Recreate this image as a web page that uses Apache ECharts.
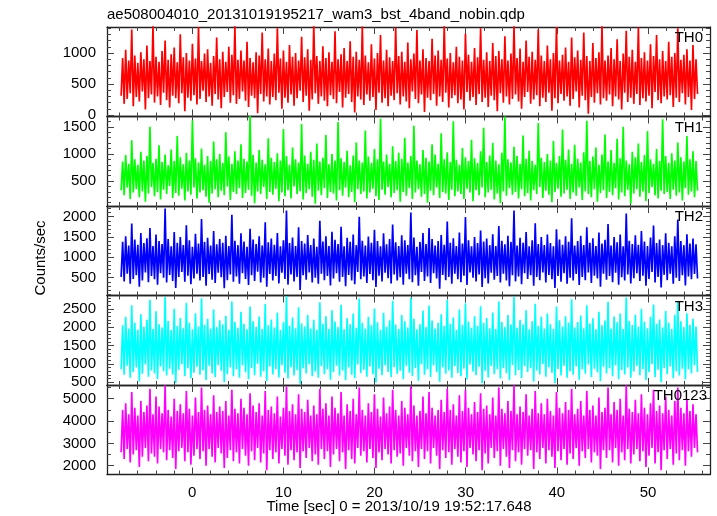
<!DOCTYPE html>
<html><head><meta charset="utf-8">
<script src="https://cdn.jsdelivr.net/npm/echarts@6/dist/echarts.min.js"></script>
<style>html,body{margin:0;padding:0;background:#fff}#c{width:717px;height:516px}</style>
</head><body><div id="c"></div>
<script>
const titleText = 'ae508004010_20131019195217_wam3_bst_4band_nobin.qdp';
const xTitle = 'Time [sec] 0 = 2013/10/19 19:52:17.648';
const yTitle = 'Counts/sec';
const panelNames = ['TH0', 'TH1', 'TH2', 'TH3', 'TH0123'];
const panelColors = ['#ff0000', '#00ff00', '#0000ff', '#00ffff', '#ff00ff'];
const tStart = -7.8, tStep = 0.1664;

const th0 = [
310,920,180,1050,260,880,350,1380,140,960,290,840,220,1010,380,900,90,1120,270,870,
330,1450,200,940,300,860,160,1030,360,1200,240,890,120,980,310,1090,270,850,190,1300,
350,930,60,1000,280,880,230,1150,320,910,170,1420,260,870,390,990,210,1060,300,840,
150,950,340,1250,250,900,110,1020,290,860,370,1100,200,970,320,1440,180,890,260,1040,
380,880,230,1180,130,920,310,850,270,1010,30,960,340,1330,220,900,300,1070,170,870,
290,990,240,1400,360,910,100,1040,280,860,200,1130,330,940,150,1000,270,880,390,1260,
210,930,310,1060,70,890,250,1460,350,950,180,870,300,1110,230,920,140,1010,320,860,
260,1350,190,900,370,980,120,1080,280,870,340,1190,210,940,40,1020,300,890,250,1430,
160,960,330,850,230,1140,290,910,80,1000,360,1290,200,880,270,1050,140,930,310,870,
240,1410,350,950,170,1020,300,860,220,1170,110,900,380,990,260,1370,190,880,330,1060,
50,920,280,870,240,1230,340,960,150,1040,300,890,210,1450,360,910,120,1000,270,850,
320,1100,190,940,250,880,90,1310,370,970,230,860,290,1080,160,930,340,1400,210,890,
280,1010,130,870,310,1160,240,950,60,1030,350,900,200,1270,300,880,170,990,260,1440,
330,920,220,1070,100,860,290,1200,370,940,180,1020,250,890,320,1380,140,960,280,870,
210,1120,360,900,70,1000,270,1420,190,880,340,970,230,1090,300,860,150,1250,260,930,
380,1040,120,890,310,1330,240,950,20,870,290,1160,200,920,350,1010,170,1450,270,880,
230,960,330,1080,140,900,300,1220,250,870,90,990,360,1360,210,940,280,1050,180,860,
340,1410,160,920,270,1010,220,880,310,1140,110,950,370,1290,240,900,190,1030,300,870,
250,1180,320,940,130,1000,280,1400,210,890,350,970,170,1060,290,880,80,1130,260,900,
340
];
const th1 = [
330,860,240,980,380,820,170,1250,290,900,350,800,200,1040,310,880,120,960,270,1500,
390,830,220,910,300,1160,160,850,340,990,260,790,410,1080,190,870,280,1330,230,940,
360,810,140,1020,310,880,250,1620,380,920,180,840,290,1100,330,800,210,960,100,870,
270,1230,350,900,200,1000,320,830,240,1400,400,950,150,820,300,1050,260,880,370,1180,
190,910,280,860,340,1700,230,980,90,840,310,1070,260,890,390,810,170,1290,300,930,
250,850,360,1010,130,880,290,1460,220,960,330,800,180,1120,400,900,260,840,310,1550,
160,970,280,820,350,1040,210,890,80,1190,320,860,240,930,370,1350,190,810,300,1000,
270,880,140,1590,330,920,230,850,380,1060,200,790,300,970,110,1210,350,880,260,840,
310,1430,180,950,290,830,360,1090,220,900,150,1650,340,860,250,990,390,820,200,1140,
280,870,330,1020,120,910,300,1300,230,840,370,960,170,1520,290,880,350,810,210,1070,
260,930,100,860,320,1180,240,990,380,820,190,1380,300,900,270,1030,150,850,340,1600,
220,890,310,800,260,1110,170,940,360,870,290,1260,130,920,330,830,240,1050,380,1480,
200,850,290,970,340,1200,160,880,270,810,90,1020,310,1690,230,900,370,840,250,1130,
300,960,180,820,350,1340,220,910,280,1060,140,870,330,800,260,1570,390,930,190,850,
320,1000,250,880,110,1240,300,830,360,960,210,1450,270,890,340,1080,170,820,290,1170,
230,910,380,840,150,1030,310,1610,260,870,200,950,350,1120,120,800,280,990,330,1360,
190,860,300,1070,240,830,370,1280,160,920,290,1500,220,880,340,810,80,1040,270,940,
350,1190,210,850,310,980,130,1420,280,900,390,820,240,1090,180,870,320,1640,260,960,
300,830,170,1010,340,880,230,1210,290,940,140,860,370,1330,250,900,310,1050,200,870,
320
];
const th2 = [
520,1380,410,1520,600,1290,350,1830,470,1440,560,1310,280,1600,430,1350,630,1470,390,1720,
540,1280,460,1560,330,1400,610,1330,500,2200,380,1450,570,1270,420,1620,250,1360,520,1500,
640,1300,400,1790,550,1420,340,1260,480,1580,600,1340,430,1940,520,1380,300,1480,590,1290,
450,1650,370,1320,620,1450,510,1360,240,1530,440,1280,580,2050,400,1410,530,1300,350,1590,
610,1390,470,1260,320,1700,560,1440,420,1330,650,1520,380,1290,500,1860,280,1370,590,1460,
430,1310,540,1600,360,1270,620,1420,470,2150,330,1350,580,1490,410,1280,520,1740,200,1400,
560,1340,450,1550,630,1300,380,1460,500,1260,350,1900,600,1390,440,1520,540,1280,310,1630,
480,1430,610,1330,400,1750,520,1270,290,1480,570,1380,430,1560,340,1300,640,2000,460,1410,
530,1290,370,1510,590,1360,440,1680,270,1400,550,1270,410,1590,620,1320,490,1450,360,1810,
580,1370,430,1280,510,1540,330,1420,600,1300,460,2100,390,1490,560,1260,300,1380,640,1600,
420,1330,530,1720,370,1450,610,1290,480,1400,230,1550,570,1310,440,1880,520,1360,350,1470,
600,1280,460,1610,390,1340,550,1990,320,1420,630,1270,500,1500,410,1350,580,1660,270,1390,
490,1460,360,1300,620,1570,450,1280,540,1770,380,1410,600,1320,430,1530,290,1380,560,2150,
410,1290,530,1480,340,1360,610,1620,470,1270,560,1420,300,1840,520,1330,440,1500,630,1300,
380,1560,570,1350,460,1270,250,1690,540,1440,400,1310,610,1520,350,1380,500,1960,430,1290,
590,1400,320,1530,520,1300,440,1740,630,1360,370,1470,550,1280,480,1610,280,1340,600,1430,
450,1820,540,1290,390,1500,620,1370,330,1560,510,1270,430,2080,580,1410,360,1330,490,1540,
610,1310,420,1650,550,1390,300,1280,470,1490,640,1780,380,1350,520,1440,260,1300,570,1590,
440,1360,600,1270,350,1520,500,1930,420,1400,560,1300,310,1570,530,1340,460,1460,590,1320,
480
];
const th3 = [
860,2050,700,2280,950,1960,620,2600,780,2120,900,1930,520,2350,730,2010,980,2200,650,2750,
820,1950,740,2430,590,2080,930,1990,800,2820,680,2170,870,1920,710,2500,480,2030,840,2250,
990,1970,670,2660,880,2110,610,1940,760,2380,920,2020,700,2790,830,2060,560,2230,950,1960,
740,2480,640,2000,970,2190,810,2070,500,2310,720,1930,900,2700,660,2140,850,1980,620,2420,
960,2090,770,1940,580,2560,890,2160,690,2010,1000,2290,650,1950,800,2630,530,2050,930,2210,
710,1990,860,2400,630,1920,970,2130,760,2850,600,2040,910,2260,680,1970,830,2540,460,2100,
880,2020,740,2330,990,1960,660,2200,790,1930,620,2680,940,2090,720,2300,850,1950,570,2460,
780,2150,950,2000,680,2610,820,1940,550,2240,900,2080,700,2370,610,1980,980,2780,750,2110,
840,1960,650,2280,930,2050,720,2510,490,2130,870,1930,690,2390,960,2010,780,2190,640,2720,
910,2070,730,1950,810,2330,590,2160,950,1990,760,2800,670,2230,890,1940,540,2080,990,2450,
700,2000,850,2590,640,2180,960,1960,770,2120,510,2350,900,2030,730,2740,820,2090,620,2260,
940,1930,750,2480,660,2060,870,2650,580,2150,980,1980,790,2300,690,2040,920,2570,470,2110,
810,2250,630,1970,950,2400,720,1950,860,2700,600,2140,890,2000,750,2330,560,2070,970,2830,
690,1980,830,2200,610,2070,940,2460,780,1940,880,2160,520,2640,820,2030,710,2280,990,1960,
650,2370,910,2080,760,1950,480,2560,860,2190,680,2020,950,2300,620,2120,800,2760,700,1990,
930,2140,570,2320,850,1970,730,2600,980,2100,640,2240,870,1940,770,2420,530,2050,920,2180,
740,2690,880,1960,660,2290,960,2130,590,2370,830,1950,710,2810,900,2170,620,2060,790,2340,
950,2010,690,2500,860,2150,550,1970,770,2280,990,2620,640,2090,840,2210,500,1990,890,2440,
720,2120,930,1950,610,2330,800,2710,680,2160,870,2000,580,2380,850,2060,740,2230,960,2020,
780
];
const th0123 = [
2600,4500,2300,4800,2750,4300,2150,5300,2500,4600,2700,4250,1950,4900,2400,4400,2800,4700,2200,5450,
2550,4300,2400,5100,2100,4650,2750,4350,2600,5600,2250,4500,2700,4200,2350,5000,1850,4450,2650,4750,
2800,4350,2200,5350,2600,4550,2050,4250,2450,5050,2750,4400,2300,5500,2650,4500,2000,4700,2750,4300,
2400,5150,2150,4400,2800,4650,2550,4450,1900,4900,2350,4250,2700,5400,2200,4550,2600,4350,2100,5000,
2750,4600,2450,4300,2000,5250,2650,4700,2250,4400,2800,4800,2150,4250,2550,5350,1800,4500,2700,4650,
2300,4350,2600,5100,2100,4200,2750,4600,2450,5550,2050,4450,2700,4750,2250,4300,2600,5200,1900,4550,
2650,4400,2350,4950,2800,4250,2200,4700,2500,4300,2050,5450,2750,4550,2300,4800,2650,4250,1950,5100,
2500,4600,2750,4350,2200,5300,2600,4250,1850,4750,2700,4450,2300,5000,2100,4300,2800,5500,2450,4500,
2650,4250,2150,4800,2750,4400,2350,5200,1900,4550,2600,4200,2250,5050,2750,4350,2500,4650,2100,5400,
2700,4500,2400,4250,2550,4900,2000,4600,2800,4300,2450,5550,2200,4700,2650,4250,1950,4450,2750,5100,
2300,4350,2650,5300,2100,4600,2800,4250,2450,4500,1850,4950,2700,4400,2350,5450,2600,4500,2050,4750,
2750,4250,2400,5150,2150,4450,2650,5400,1950,4600,2800,4300,2500,4850,2200,4400,2700,5250,1800,4550,
2550,4700,2100,4300,2800,5050,2350,4250,2650,5500,2000,4550,2750,4350,2400,4900,1900,4450,2700,5600,
2200,4300,2600,4650,2050,4400,2750,5200,2450,4250,2700,4550,1850,5350,2600,4350,2300,4800,2800,4300,
2100,5000,2700,4450,2400,4250,1900,5300,2650,4600,2250,4350,2750,4850,2050,4500,2550,5450,2300,4300,
2800,4550,2000,4900,2650,4250,2350,5350,2750,4500,2150,4700,2600,4250,2450,5050,1850,4400,2700,4600,
2350,5500,2700,4300,2150,4850,2800,4500,2000,5000,2600,4250,2250,5600,2750,4550,2100,4400,2500,4950,
2750,4350,2200,5200,2650,4600,1950,4300,2450,4800,2800,5400,2100,4450,2600,4700,1800,4350,2700,5100,
2300,4500,2750,4250,2050,4900,2550,5500,2250,4600,2700,4350,2000,5000,2650,4450,2400,4750,2800,4300,
2600
];
const panelData = [th0, th1, th2, th3, th0123];

const xMin = -9.35, xMax = 56.8;
const xMajorTicks = [0, 10, 20, 30, 40, 50];
const xMinorTicks = [-8,-6,-4,-2,0,2,4,6,8,10,12,14,16,18,20,22,24,26,28,30,32,34,36,38,40,42,44,46,48,50,52,54,56];
const yRanges = [[-24, 1419], [40, 1690], [62, 2263], [423, 2863], [1608, 5615]];
const yMajorTicks = [
  [0, 500, 1000],
  [500, 1000, 1500],
  [500, 1000, 1500, 2000],
  [500, 1000, 1500, 2000, 2500],
  [2000, 3000, 4000, 5000]
];
const yMinorStep = [100, 100, 100, 100, 500];

function stepsIn(lo, hi, step) {
  const out = [];
  for (let v = Math.ceil(lo / step) * step; v <= hi; v += step) out.push(v);
  return out;
}

const FONT = '"Liberation Sans", Arial, Helvetica, sans-serif';
const gridTops = [27, 116.5, 206, 295.5, 385];
const gridH = 89.5;
const frameLine = { color: '#222', width: 1.3 };
const tickLine = { color: '#444', width: 1 };
const plain = v => String(v);

const grids = [], xAxes = [], yAxes = [], series = [], graphics = [];

panelData.forEach((vals, i) => {
  grids.push({ left: 107, right: 7, top: gridTops[i], height: gridH });
  const isLast = i === panelData.length - 1;
  const xb = { type: 'value', gridIndex: i, min: xMin, max: xMax, splitLine: { show: false } };
  const xi = xAxes.length;
  xAxes.push(Object.assign({}, xb, {
    position: 'bottom',
    axisLine: { show: true, onZero: false, lineStyle: frameLine },
    axisTick: { show: true, inside: true, length: 7, customValues: xMajorTicks, lineStyle: tickLine },
    axisLabel: { show: isLast, customValues: xMajorTicks, formatter: plain, margin: 11, fontSize: 15, color: '#000', fontFamily: FONT }
  }));
  xAxes.push(Object.assign({}, xb, {
    position: 'bottom',
    axisLine: { show: false, onZero: false },
    axisTick: { show: true, inside: true, length: 4, customValues: xMinorTicks, lineStyle: tickLine },
    axisLabel: { show: false }
  }));
  xAxes.push(Object.assign({}, xb, {
    position: 'top',
    axisLine: { show: true, onZero: false, lineStyle: frameLine },
    axisTick: { show: true, inside: true, length: 7, customValues: xMajorTicks, lineStyle: tickLine },
    axisLabel: { show: false }
  }));
  xAxes.push(Object.assign({}, xb, {
    position: 'top',
    axisLine: { show: false, onZero: false },
    axisTick: { show: true, inside: true, length: 4, customValues: xMinorTicks, lineStyle: tickLine },
    axisLabel: { show: false }
  }));

  const [ymin, ymax] = yRanges[i];
  const minor = stepsIn(ymin, ymax, yMinorStep[i]);
  const yb = { type: 'value', gridIndex: i, min: ymin, max: ymax, splitLine: { show: false } };
  const yi = yAxes.length;
  yAxes.push(Object.assign({}, yb, {
    position: 'left',
    axisLine: { show: true, onZero: false, lineStyle: frameLine },
    axisTick: { show: true, inside: true, length: 7, customValues: yMajorTicks[i], lineStyle: tickLine },
    axisLabel: { show: true, customValues: yMajorTicks[i], formatter: plain, margin: 11, fontSize: 15, color: '#000', fontFamily: FONT }
  }));
  yAxes.push(Object.assign({}, yb, {
    position: 'left',
    axisLine: { show: false, onZero: false },
    axisTick: { show: true, inside: true, length: 4, customValues: minor, lineStyle: tickLine },
    axisLabel: { show: false }
  }));
  yAxes.push(Object.assign({}, yb, {
    position: 'right',
    axisLine: { show: true, onZero: false, lineStyle: frameLine },
    axisTick: { show: true, inside: true, length: 7, customValues: yMajorTicks[i], lineStyle: tickLine },
    axisLabel: { show: false }
  }));
  yAxes.push(Object.assign({}, yb, {
    position: 'right',
    axisLine: { show: false, onZero: false },
    axisTick: { show: true, inside: true, length: 4, customValues: minor, lineStyle: tickLine },
    axisLabel: { show: false }
  }));

  series.push({
    type: 'line', xAxisIndex: xi, yAxisIndex: yi,
    data: vals.map((v, k) => [tStart + k * tStep, v]),
    symbol: 'none', showSymbol: false, clip: true, sampling: null,
    lineStyle: { width: 1.7, color: panelColors[i], join: 'bevel' },
    itemStyle: { color: panelColors[i] },
    silent: true, animation: false
  });

  graphics.push({
    type: 'text', x: isLast ? 707 : 703, y: gridTops[i] + 11,
    style: { text: panelNames[i], align: 'right', verticalAlign: 'middle', font: '15px ' + FONT, fill: '#000' },
    z: 100
  });
});

graphics.push({
  type: 'text', x: 41, y: 258, rotation: Math.PI / 2,
  style: { text: yTitle, align: 'center', verticalAlign: 'middle', font: '15px ' + FONT, fill: '#000' }
});
graphics.push({
  type: 'text', x: 399, y: 507,
  style: { text: xTitle, align: 'center', verticalAlign: 'middle', font: '15px ' + FONT, fill: '#000' }
});

const chart = echarts.init(document.getElementById('c'), null, { renderer: 'canvas' });
chart.setOption({
  animation: false,
  backgroundColor: '#fff',
  title: { text: titleText, left: 107, top: 7, padding: 0, textStyle: { fontSize: 15, fontWeight: 'normal', color: '#000', fontFamily: FONT } },
  grid: grids,
  xAxis: xAxes,
  yAxis: yAxes,
  series: series,
  graphic: graphics
});
</script>
</body></html>
